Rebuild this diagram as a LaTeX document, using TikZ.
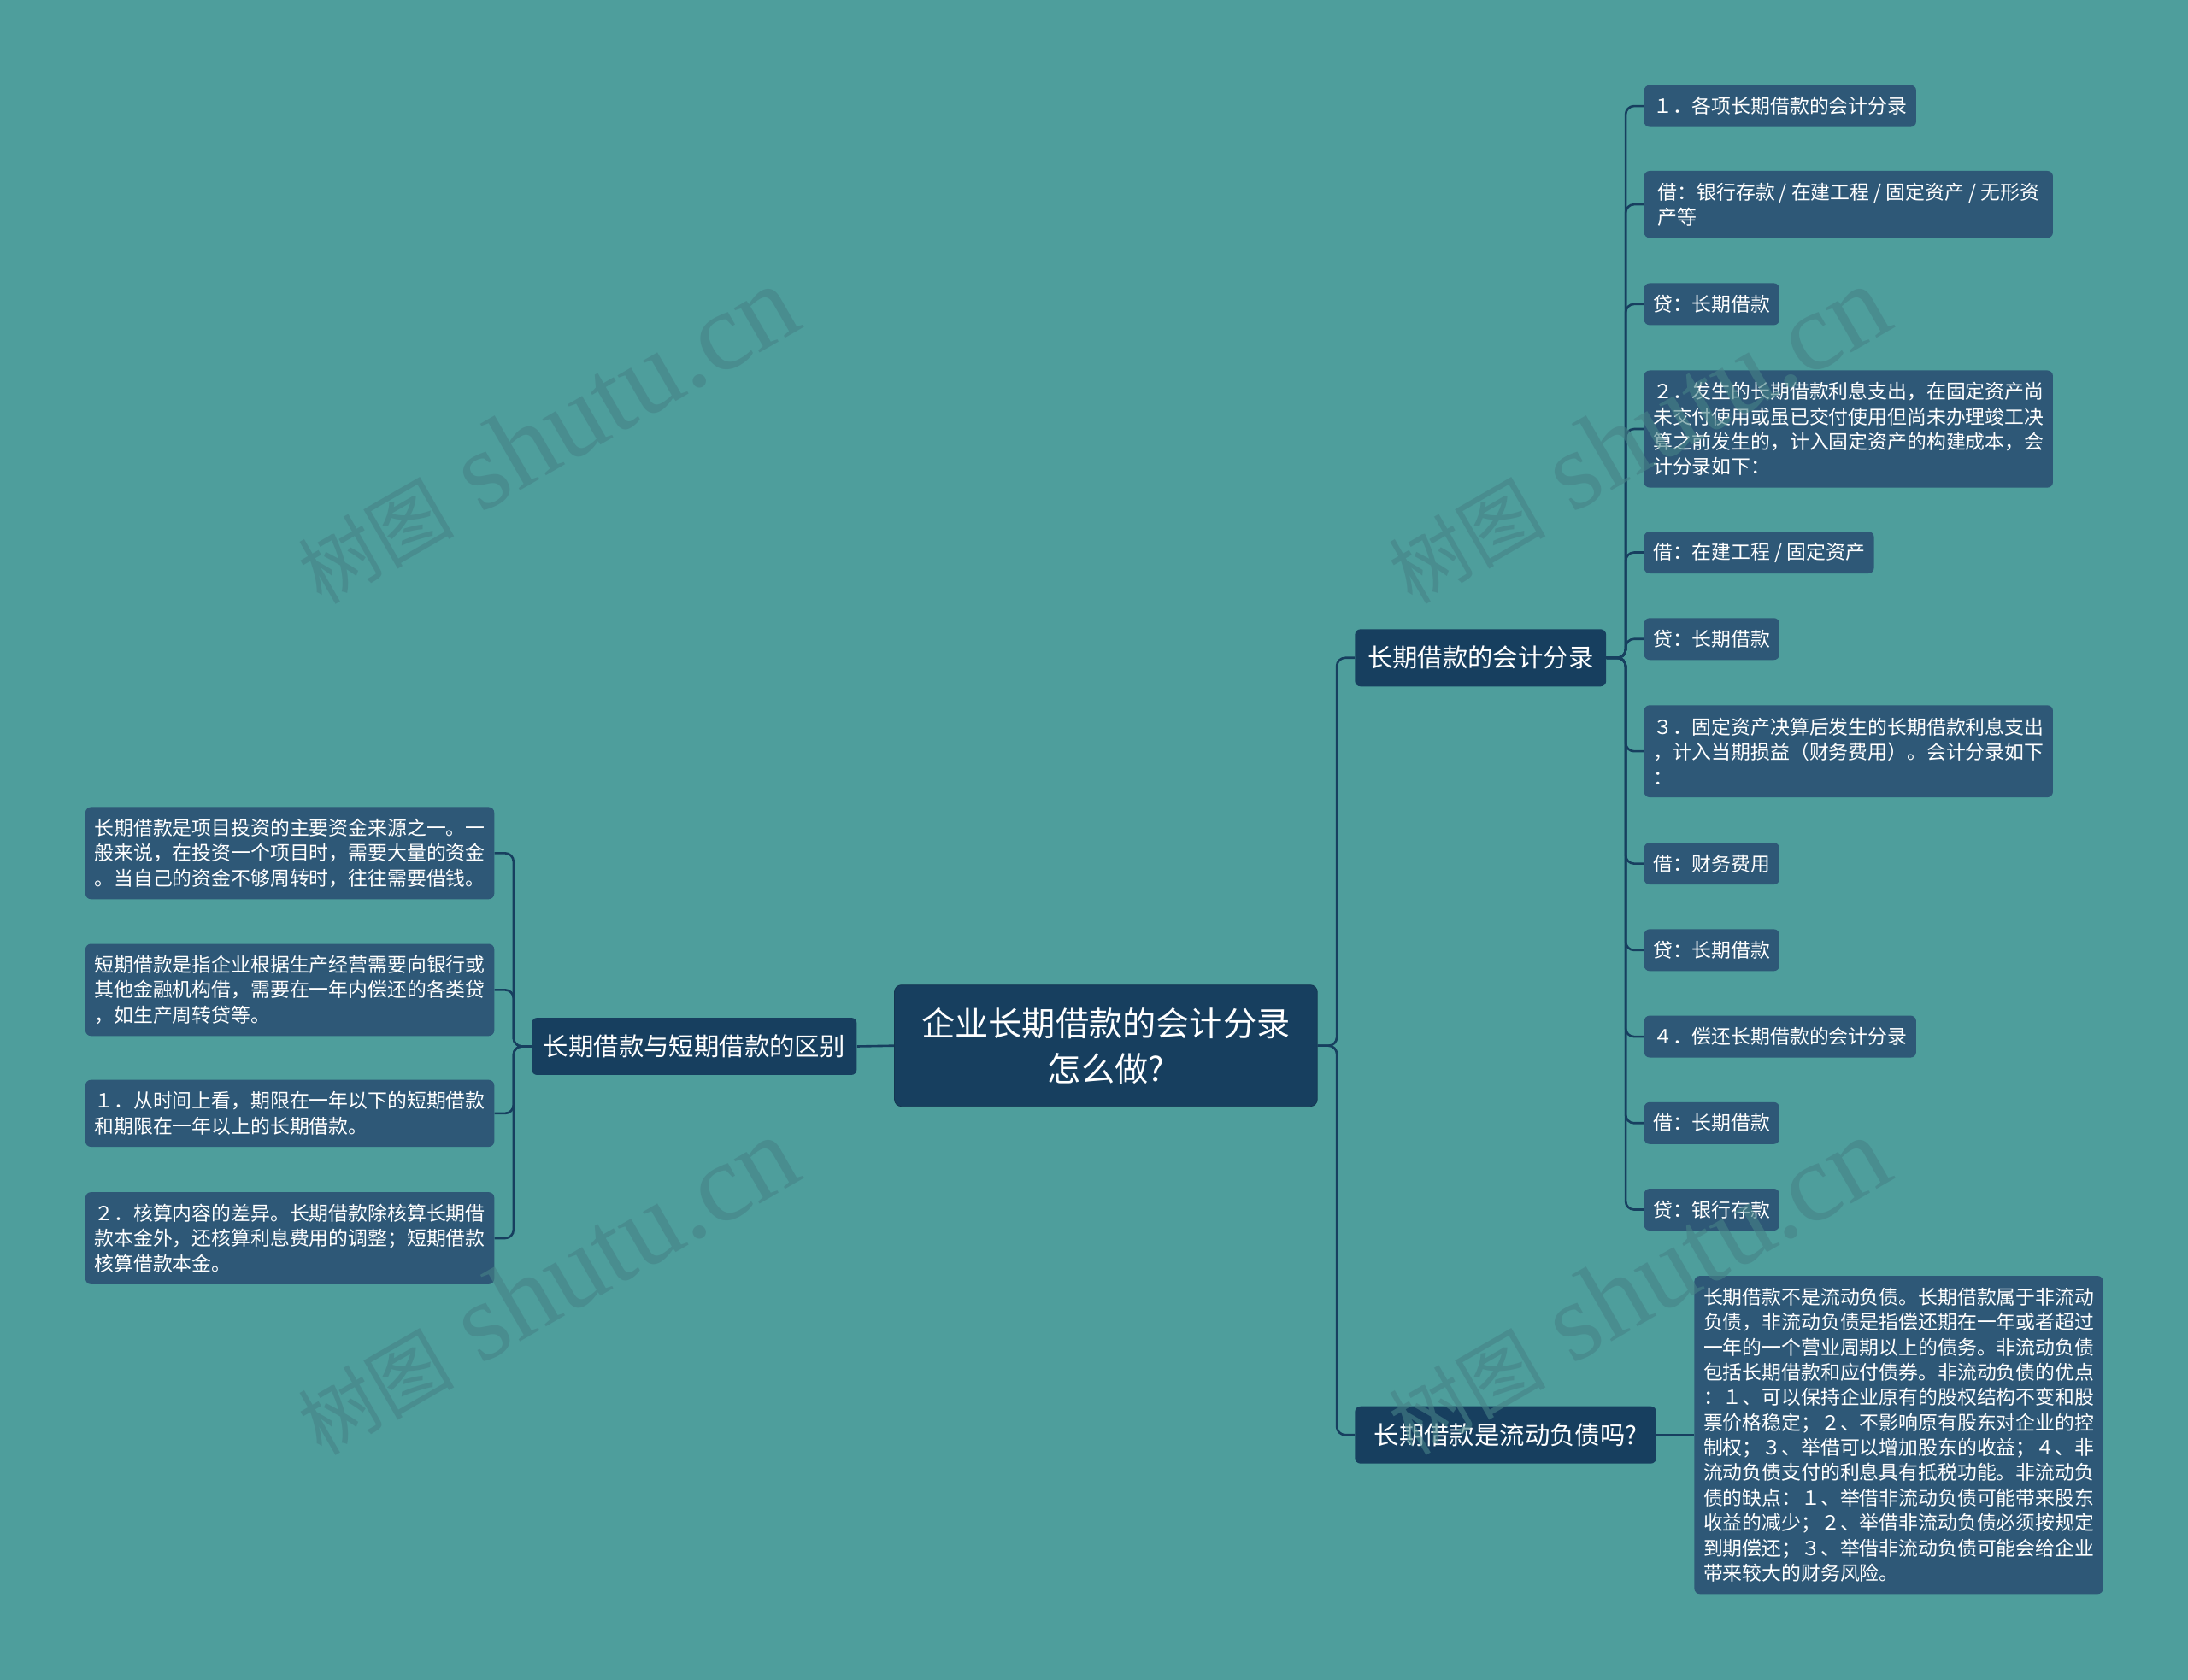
\documentclass[tikz,border=0pt]{standalone}
\usepackage{fontspec}
\setmainfont{Noto Sans CJK SC}
\newfontfamily\wmlatin{Liberation Serif}
\newfontfamily\wmcjk{Noto Sans CJK SC}
\definecolor{bgc}{HTML}{4E9E9C}
\definecolor{rootc}{HTML}{173F5F}
\definecolor{leafc}{HTML}{2E5877}
\definecolor{linec}{HTML}{173F5F}
\definecolor{wmc}{RGB}{70,130,135}
\begin{document}
\begin{tikzpicture}[x=1pt,y=-1pt,
  every node/.style={text=white, inner sep=0pt},
  rootbox/.style={fill=rootc, draw=rootc!85!black, line width=0.5pt, rounded corners=5pt, minimum width=303pt, minimum height=87pt, align=center, font=\fontsize{24}{32.5}\selectfont},
  topic/.style={fill=rootc, rounded corners=4pt, minimum height=41pt, align=center, font=\fontsize{18}{22}\selectfont},
  leaf/.style={fill=leafc, rounded corners=4pt, minimum height=#1, inner xsep=6.5pt, align=left, anchor=west, font=\fontsize{14}{18}\selectfont},
  wide/.style={minimum width=293pt},
  link/.style={draw=linec, line width=1.6pt, rounded corners=6pt},
  wmark/.style={text=wmc, text opacity=0.6, anchor=base, rotate=30}]
\fill[bgc] (0,0) rectangle (1568,1204);
\useasboundingbox (0,0) rectangle (1568,1204);

% root
\node[rootbox] (root) at (792.5,749.5) {企业长期借款的会计分录\\怎么做?};

% topics
\node[topic, minimum width=233pt] (t0) at (497.5,750) {长期借款与短期借款的区别};
\node[topic, minimum width=180pt] (t1) at (1061,471.5) {长期借款的会计分录};
\node[topic, minimum width=216pt] (t2) at (1079,1028.5) {长期借款是流动负债吗?};

% left leaves
\node[leaf=66pt, wide] (a1) at (61,611.5) {长期借款是项目投资的主要资金来源之一。一\\般来说，在投资一个项目时，需要大量的资金\\。当自己的资金不够周转时，往往需要借钱。};
\node[leaf=66pt, wide] (a2) at (61,709.5) {短期借款是指企业根据生产经营需要向银行或\\其他金融机构借，需要在一年内偿还的各类贷\\，如生产周转贷等。};
\node[leaf=48pt, wide] (a3) at (61,798) {１．从时间上看，期限在一年以下的短期借款\\和期限在一年以上的长期借款。};
\node[leaf=66pt, wide] (a4) at (61,887.5) {２．核算内容的差异。长期借款除核算长期借\\款本金外，还核算利息费用的调整；短期借款\\核算借款本金。};

% right leaves
\node[leaf=30pt] (r1) at (1178,76) {１．各项长期借款的会计分录};
\node[leaf=48pt, wide] (r2) at (1178,146.5) {借：银行存款 / 在建工程 / 固定资产 / 无形资\\产等};
\node[leaf=30pt] (r3) at (1178,218) {贷：长期借款};
\node[leaf=84pt, wide] (r4) at (1178,307.5) {２．发生的长期借款利息支出，在固定资产尚\\未交付使用或虽已交付使用但尚未办理竣工决\\算之前发生的，计入固定资产的构建成本，会\\计分录如下：};
\node[leaf=30pt] (r5) at (1178,396) {借：在建工程 / 固定资产};
\node[leaf=30pt] (r6) at (1178,458) {贷：长期借款};
\node[leaf=66pt, wide] (r7) at (1178,538.5) {３．固定资产决算后发生的长期借款利息支出\\，计入当期损益（财务费用）。会计分录如下\\：};
\node[leaf=30pt] (r8) at (1178,619) {借：财务费用};
\node[leaf=30pt] (r9) at (1178,681) {贷：长期借款};
\node[leaf=30pt] (r10) at (1178,743) {４．偿还长期借款的会计分录};
\node[leaf=30pt] (r11) at (1178,805) {借：长期借款};
\node[leaf=30pt] (r12) at (1178,867) {贷：银行存款};

\node[leaf=228pt, wide] (f) at (1214,1028.5) {长期借款不是流动负债。长期借款属于非流动\\负债，非流动负债是指偿还期在一年或者超过\\一年的一个营业周期以上的债务。非流动负债\\包括长期借款和应付债券。非流动负债的优点\\：１、可以保持企业原有的股权结构不变和股\\票价格稳定；２、不影响原有股东对企业的控\\制权；３、举借可以增加股东的收益；４、非\\流动负债支付的利息具有抵税功能。非流动负\\债的缺点：１、举借非流动负债可能带来股东\\收益的减少；２、举借非流动负债必须按规定\\到期偿还；３、举借非流动负债可能会给企业\\带来较大的财务风险。};

% connectors
\draw[link] (root.west) -- (t0.east);
\draw[link] (root.east) -- (958,749.5) |- (t1.west);
\draw[link] (root.east) -- (958,749.5) |- (t2.west);
\foreach \n in {a1,a2,a3,a4}{\draw[link] (t0.west) -- (368,750) |- (\n.east);}
\foreach \n in {r1,r2,r3,r4,r5,r6,r7,r8,r9,r10,r11,r12}{\draw[link] (t1.east) -- (1165,471.5) |- (\n.west);}
\draw[link] (t2.east) -- (f.west);

% watermarks
\foreach \dx/\dy [count=\i] in {0/0,782/0,0/610,782/610}{
  \node[wmark] (wm\i) at (404+\dx,334+\dy) {{\wmcjk\fontsize{56}{56}\selectfont 树图}{\wmlatin\fontsize{80}{80}\selectfont\ shutu.cn}};
}
\end{tikzpicture}
\end{document}
